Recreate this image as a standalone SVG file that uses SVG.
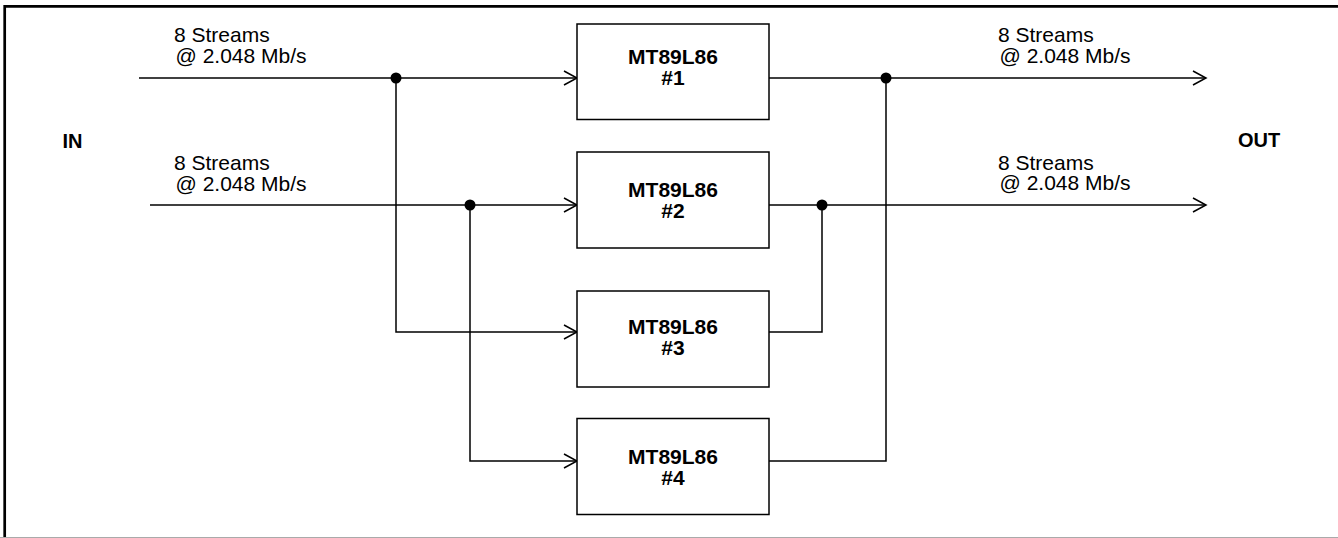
<svg xmlns="http://www.w3.org/2000/svg" width="1338" height="538" viewBox="0 0 1338 538">
  <style>
    .frame { fill: none; stroke: #000; stroke-width: 2.7; }
    .box { fill: #fff; stroke: #000; stroke-width: 1.5; }
    .wire { fill: none; stroke: #000; stroke-width: 1.5; }
    .dot { fill: #000; }
    .lbl { font-family: "Liberation Sans", Arial, sans-serif; font-size: 21px; fill: #000; }
    .bold { font-family: "Liberation Sans", Arial, sans-serif; font-size: 21px; font-weight: bold; fill: #000; }
    .io { font-family: "Liberation Sans", Arial, sans-serif; font-size: 20px; font-weight: bold; fill: #000; }
  </style>
  <defs>
    <marker id="arr" markerUnits="userSpaceOnUse" markerWidth="16" markerHeight="18" viewBox="-1 -1 16 18" refX="13" refY="7" orient="auto">
      <path d="M0,0 L13,7 L0,14" fill="none" stroke="#000" stroke-width="1.5"/>
    </marker>
  </defs>
  <rect width="1338" height="538" fill="#fff"/>
  <g id="frame">
    <path class="frame" d="M4.7,538 V6.3 H1338"/>
    <line x1="0" y1="537.5" x2="1338" y2="537.5" stroke="#aaa" stroke-width="1"/>
  </g>
  <g id="connectors">
    <path class="wire" d="M139,78 H577" marker-end="url(#arr)"/>
    <path class="wire" d="M150,205 H577" marker-end="url(#arr)"/>
    <path class="wire" d="M396,78 V332 H577" marker-end="url(#arr)"/>
    <path class="wire" d="M470,205 V461 H577" marker-end="url(#arr)"/>
    <path class="wire" d="M769,78 H1206" marker-end="url(#arr)"/>
    <path class="wire" d="M769,205 H1206" marker-end="url(#arr)"/>
    <path class="wire" d="M769,332 H822 V205"/>
    <path class="wire" d="M769,461 H886 V78"/>
    <circle class="dot" cx="396" cy="78" r="5.5"/>
    <circle class="dot" cx="470" cy="205" r="5.5"/>
    <circle class="dot" cx="822" cy="205" r="5.5"/>
    <circle class="dot" cx="886" cy="78" r="5.5"/>
  </g>
  <g id="labels">
    <text class="io" x="62.5" y="148">IN</text>
    <text class="io" x="1238" y="147">OUT</text>
    <text class="lbl" x="174" y="42">8 Streams</text>
    <text class="lbl" x="175.5" y="63">@ 2.048 Mb/s</text>
    <text class="lbl" x="174" y="170">8 Streams</text>
    <text class="lbl" x="175.5" y="191">@ 2.048 Mb/s</text>
    <text class="lbl" x="998" y="42">8 Streams</text>
    <text class="lbl" x="999.5" y="63">@ 2.048 Mb/s</text>
    <text class="lbl" x="998" y="169.5">8 Streams</text>
    <text class="lbl" x="999.5" y="190">@ 2.048 Mb/s</text>
  </g>
  <g id="node1">
    <rect class="box" x="577" y="24" width="192" height="95.5"/>
    <text class="bold" x="673" y="64" text-anchor="middle">MT89L86</text>
    <text class="bold" x="673" y="84.5" text-anchor="middle">#1</text>
  </g>
  <g id="node2">
    <rect class="box" x="577" y="152" width="192" height="96"/>
    <text class="bold" x="673" y="196.5" text-anchor="middle">MT89L86</text>
    <text class="bold" x="673" y="217.5" text-anchor="middle">#2</text>
  </g>
  <g id="node3">
    <rect class="box" x="577" y="291" width="192" height="96"/>
    <text class="bold" x="673" y="334" text-anchor="middle">MT89L86</text>
    <text class="bold" x="673" y="355" text-anchor="middle">#3</text>
  </g>
  <g id="node4">
    <rect class="box" x="577" y="418.5" width="192" height="96"/>
    <text class="bold" x="673" y="464" text-anchor="middle">MT89L86</text>
    <text class="bold" x="673" y="484.5" text-anchor="middle">#4</text>
  </g>
</svg>
